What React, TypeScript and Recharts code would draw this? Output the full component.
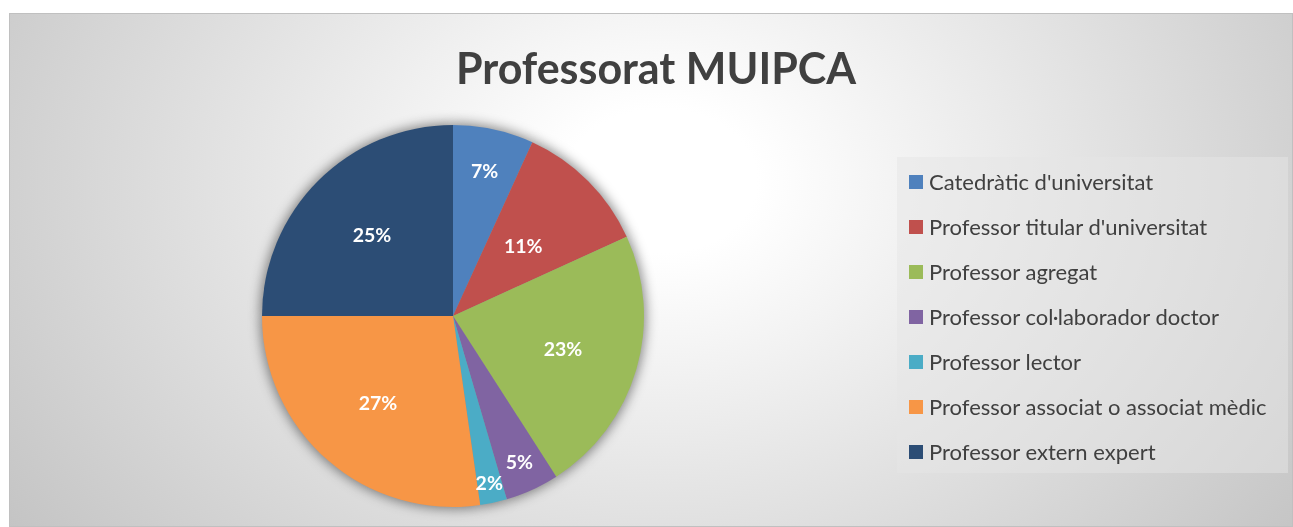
import { Cell, Legend, Pie, PieChart } from 'recharts';

const categories = [
  "Catedràtic d'universitat",
  "Professor titular d'universitat",
  'Professor agregat',
  'Professor col·laborador doctor',
  'Professor lector',
  'Professor associat o associat mèdic',
  'Professor extern expert',
];
const counts = [3, 5, 10, 2, 1, 12, 11];
const colors = ['#4F81BD', '#C0504D', '#9BBB59', '#8064A2', '#4BACC6', '#F79646', '#2C4D75'];

const data = categories.map((name, i) => ({ name, value: counts[i] }));

const RADIAN = Math.PI / 180;

// small slices get their label pushed towards the rim, like Excel's best fit
function renderLabel(props: any) {
  const { cx, cy, midAngle, outerRadius, percent } = props;
  const ratio = percent >= 0.2 ? 0.6 : percent >= 0.1 ? 0.52 : 0.95 - 2.5 * percent;
  const r = outerRadius * ratio;
  const x = cx + r * Math.cos(-midAngle * RADIAN);
  const y = cy + r * Math.sin(-midAngle * RADIAN);
  return (
    <text
      x={x}
      y={y}
      fill="#fff"
      textAnchor="middle"
      dominantBaseline="central"
      fontSize={19.5}
      fontWeight={700}
      fontFamily="Lato"
    >
      {`${Math.round(percent * 100)}%`}
    </text>
  );
}

function LegendBox() {
  return (
    <div
      style={{
        width: 391,
        height: 316,
        paddingTop: 2,
        boxSizing: 'border-box',
        background: 'rgba(230,230,230,0.5)',
      }}
    >
      {categories.map((name, i) => (
        <div key={name} style={{ height: 45, display: 'flex', alignItems: 'center' }}>
          <span style={{ width: 14, height: 14, marginLeft: 12, background: colors[i], display: 'inline-block', flex: 'none' }} />
          <span style={{ marginLeft: 6, fontSize: 22, lineHeight: 1, color: '#404040', fontFamily: 'Lato', whiteSpace: 'nowrap' }}>{name}</span>
        </div>
      ))}
    </div>
  );
}

export default function App() {
  return (
    <div
      style={{
        position: 'fixed',
        left: 9,
        top: 13,
        width: 1284,
        height: 514,
        boxSizing: 'border-box',
        border: '1px solid #c0c0c0',
        overflow: 'hidden',
        background: 'radial-gradient(800px 600px at 651px 167px, #ffffff 0%, #ffffff 12%, #c4c4c4 100%)',
        fontFamily: 'Lato',
      }}
    >
      <svg width={1284} height={100} style={{ position: 'absolute', left: -1, top: -1 }}>
        <text x={647} y={71} textAnchor="middle" fontSize={43} fontWeight={700} fill="#404040" fontFamily="Lato">
          Professorat MUIPCA
        </text>
      </svg>
      <div style={{ position: 'absolute', left: -1, top: -1 }}>
        <PieChart width={1284} height={514}>
          <defs>
            <filter id="pieShadow" x="-20%" y="-20%" width="140%" height="140%">
              <feGaussianBlur stdDeviation="6" />
            </filter>
          </defs>
          <Pie
            data={data}
            dataKey="value"
            nameKey="name"
            cx={439}
            cy={298}
            outerRadius={193}
            startAngle={90}
            endAngle={-270}
            stroke="none"
            legendType="none"
            isAnimationActive={false}
          >
            {data.map((d) => (
              <Cell key={d.name} fill="#000" fillOpacity={0.45} filter="url(#pieShadow)" />
            ))}
          </Pie>
          <Pie
            data={data}
            dataKey="value"
            nameKey="name"
            cx={439}
            cy={298}
            outerRadius={191}
            startAngle={90}
            endAngle={-270}
            stroke="none"
            label={renderLabel}
            labelLine={false}
            isAnimationActive={false}
          >
            {data.map((d, i) => (
              <Cell key={d.name} fill={colors[i]} />
            ))}
          </Pie>
          <Legend content={<LegendBox />} wrapperStyle={{ left: 888, top: 144, width: 391 }} />
        </PieChart>
      </div>
    </div>
  );
}
